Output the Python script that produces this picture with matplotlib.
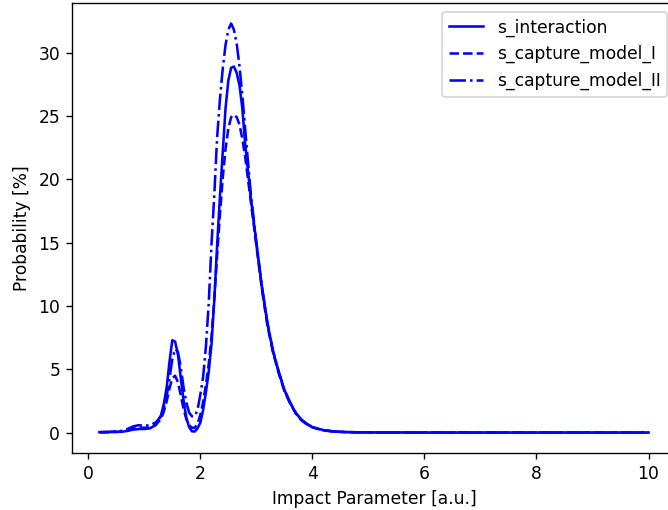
import matplotlib
matplotlib.use("Agg")
import matplotlib.pyplot as plt

# impact parameter grid [a.u.]
b = [0.2, 0.4, 0.6, 0.7, 0.8, 0.9, 1.0, 1.1, 1.2, 1.3, 1.35, 1.4, 1.45, 1.5, 1.55,
     1.6, 1.65, 1.7, 1.75, 1.8, 1.85, 1.9, 1.95, 2.0, 2.05, 2.1, 2.15, 2.2, 2.25,
     2.3, 2.35, 2.4, 2.45, 2.5, 2.55, 2.6, 2.65, 2.7, 2.75, 2.8, 2.9, 3.0, 3.1,
     3.2, 3.3, 3.4, 3.5, 3.6, 3.7, 3.8, 3.9, 4.0, 4.2, 4.4, 4.6, 4.8, 5.0, 6.0,
     7.0, 8.0, 9.0, 10.0]

s_interaction = [0.05, 0.06, 0.08, 0.15, 0.25, 0.3, 0.3, 0.35, 0.6, 1.4, 2.3, 3.6,
                 5.6, 7.3, 7.2, 6.2, 4.4, 2.6, 1.2, 0.45, 0.12, 0.1, 0.35, 0.8,
                 1.8, 3.2, 4.8, 7.0, 10.5, 14.8, 18.6, 22.1, 25.6, 27.8, 28.8,
                 28.9, 28.4, 27.4, 25.6, 22.8, 18.6, 15.0, 11.5, 8.6, 6.4, 4.8,
                 3.4, 2.4, 1.6, 1.05, 0.7, 0.45, 0.2, 0.1, 0.06, 0.04, 0.03,
                 0.02, 0.02, 0.02, 0.02, 0.02]

s_capture_model_I = [0.04, 0.05, 0.1, 0.2, 0.35, 0.4, 0.4, 0.4, 0.6, 1.1, 1.7,
                     2.5, 3.5, 4.3, 4.5, 4.0, 3.0, 1.9, 1.1, 0.6, 0.4, 0.4, 0.7,
                     1.4, 2.4, 3.8, 5.4, 7.6, 10.6, 14.0, 17.2, 20.1, 22.4, 24.0,
                     24.9, 25.1, 24.9, 24.3, 23.2, 21.8, 18.3, 14.8, 11.3, 8.4,
                     6.3, 4.7, 3.3, 2.35, 1.55, 1.0, 0.68, 0.43, 0.19, 0.09,
                     0.05, 0.04, 0.03, 0.02, 0.02, 0.02, 0.02, 0.02]

s_capture_model_II = [0.05, 0.08, 0.15, 0.3, 0.5, 0.6, 0.55, 0.6, 0.8, 1.3, 1.9,
                      2.9, 4.3, 5.8, 6.6, 6.4, 5.2, 3.6, 2.4, 1.6, 1.3, 1.3, 1.8,
                      3.0, 4.4, 6.8, 10.2, 14.9, 18.8, 23.3, 26.3, 28.7, 30.6,
                      31.8, 32.3, 31.8, 30.7, 28.9, 26.6, 24.0, 18.9, 15.0, 11.5,
                      8.6, 6.4, 4.8, 3.4, 2.4, 1.6, 1.05, 0.7, 0.45, 0.2, 0.1,
                      0.06, 0.04, 0.03, 0.02, 0.02, 0.02, 0.02, 0.02]

# reference looks like a default figure rendered at a higher dpi
dpi = 123
fig = plt.figure(figsize=(668 / dpi, 510 / dpi), dpi=dpi)
ax = fig.add_axes([72 / 668, 57 / 510, 604 / 668, 450 / 510])

ax.plot(b, s_interaction, 'b-', label='s_interaction')
ax.plot(b, s_capture_model_I, 'b--', label='s_capture_model_I')
ax.plot(b, s_capture_model_II, 'b-.', label='s_capture_model_II')

ax.set_xlabel('Impact Parameter [a.u.]')
ax.set_ylabel('Probability [%]')
ax.legend(loc='upper right')

plt.savefig("out.png", dpi=dpi)
plt.close()
